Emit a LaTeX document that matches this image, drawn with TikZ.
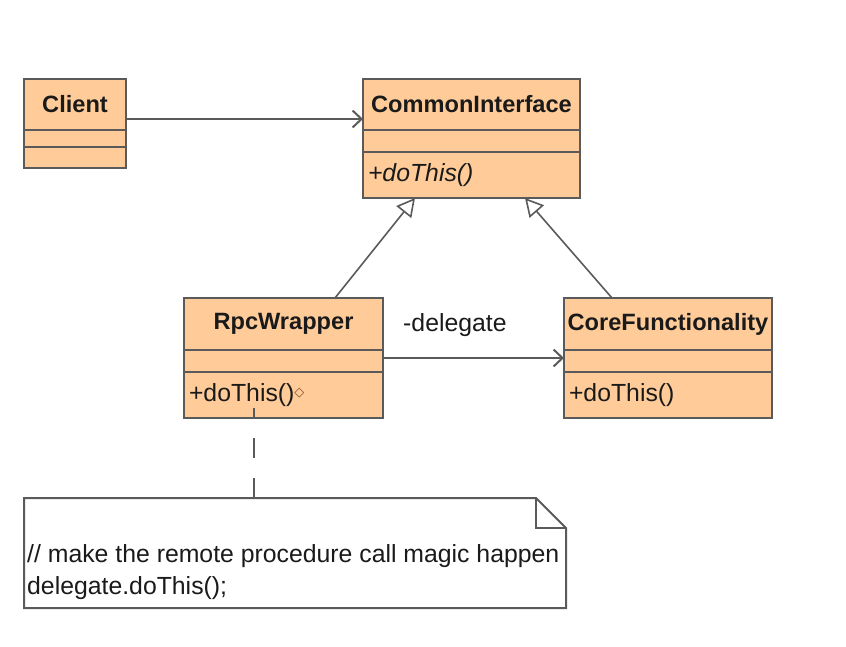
\documentclass[tikz,border=0pt]{standalone}
\usepackage{fontspec}
\setmainfont{Liberation Sans}
\newfontfamily\symfont{DejaVu Sans}
\usepackage{tikz}
\usetikzlibrary{arrows.meta,positioning,calc}
\definecolor{umlpeach}{HTML}{FFCC99}
\definecolor{umlline}{HTML}{5A5A5A}
\definecolor{umlink}{HTML}{1A1A1A}
\definecolor{umlmark}{HTML}{8A4A2A}

\begin{document}
\begin{tikzpicture}[
  x=1pt,y=-1pt,
  font=\fontsize{24.8}{32}\selectfont,text=umlink,
  cmp/.style={draw=umlline,line width=2pt,fill=umlpeach,outer sep=0pt,inner sep=0pt},
  hdr/.style={cmp,minimum height=51pt,font=\fontsize{23.6}{28}\selectfont\bfseries},
  ops/.style={cmp,inner xsep=5pt,align=left,minimum height=46pt},
  notebox/.style={inner sep=0pt,outer sep=0pt,minimum width=542pt,minimum height=110pt},
  notetext/.style={inner sep=0pt,align=left},
  lbl/.style={inner sep=0pt},
  assoc/.style={draw=umlline,line width=2pt,-{Straight Barb[length=9pt,width=17pt,line width=2pt]}},
  inherit/.style={draw=umlline,line width=1.6pt,-{Triangle[length=18pt,width=19pt,fill=white,line width=1.6pt]}},
  anchorline/.style={draw=umlline,line width=2pt,dash pattern=on 20pt off 20pt,dash phase=10pt},
]
\useasboundingbox (0,0) rectangle (846,646);

% classes
\node[hdr,minimum width=102pt] (client) at (75,104.5) {Client};
\node[cmp,minimum width=102pt,minimum height=17pt,below=0pt of client] (client-a) {};
\node[cmp,minimum width=102pt,minimum height=21pt,below=0pt of client-a] (client-o) {};

\node[hdr,minimum width=217pt] (ci) at (471.5,104.5) {CommonInterface};
\node[cmp,minimum width=217pt,minimum height=22pt,below=0pt of ci] (ci-a) {};
\node[ops,text width=207pt,below=0pt of ci-a] (ci-o) {\textit{+doThis()}};

\node[hdr,minimum width=199pt,minimum height=52pt] (rpc) at (283.5,324) {RpcWrapper};
\node[cmp,minimum width=199pt,minimum height=22pt,below=0pt of rpc] (rpc-a) {};
\node[ops,text width=189pt,below=0pt of rpc-a] (rpc-o)
  {+doThis()\raisebox{5pt}{\symfont\fontsize{13}{13}\selectfont\color{umlmark}◇}};

\node[hdr,minimum width=208pt,minimum height=52pt] (core) at (668,324) {CoreFunctionality};
\node[cmp,minimum width=208pt,minimum height=22pt,below=0pt of core] (core-a) {};
\node[ops,text width=198pt,below=0pt of core-a] (core-o) {+doThis()};

% note
\node[notebox] (note) at (295,553) {};
\draw[draw=umlline,line width=2pt,fill=white] (note.north west) -- ($(note.north east)+(-30,0)$)
  -- ($(note.north east)+(0,30)$) -- (note.south east) -- (note.south west) -- cycle;
\draw[draw=umlline,line width=2pt] ($(note.north east)+(-30,0)$) -- ($(note.north east)+(-30,30)$)
  -- ($(note.north east)+(0,30)$);
\node[notetext,anchor=south west] (notetxt) at ($(note.south west)+(3,-8)$)
  {// make the remote procedure call magic happen\\delegate.doThis();};

% connectors
\draw[assoc] ([yshift=-14.5pt]client.east) -- ([yshift=-14.5pt]ci.west);
\draw[inherit] ($(rpc.north west)+(151,0)$) -- ($(ci-o.south west)+(52,0)$);
\draw[inherit] ($(core.north west)+(48,0)$) -- ($(ci-o.south west)+(162,0)$);
\draw[assoc] ([yshift=3pt]rpc-a.east) -- ([yshift=3pt]core-a.west);
\node[lbl,anchor=base west] (dlg) at ($(rpc-a.east)+(20,-30)$) {-delegate};
\draw[anchorline] ($(rpc-o.south west)+(70,-10)$) -- ($(note.north west)+(230,0)$);

\end{tikzpicture}
\end{document}
